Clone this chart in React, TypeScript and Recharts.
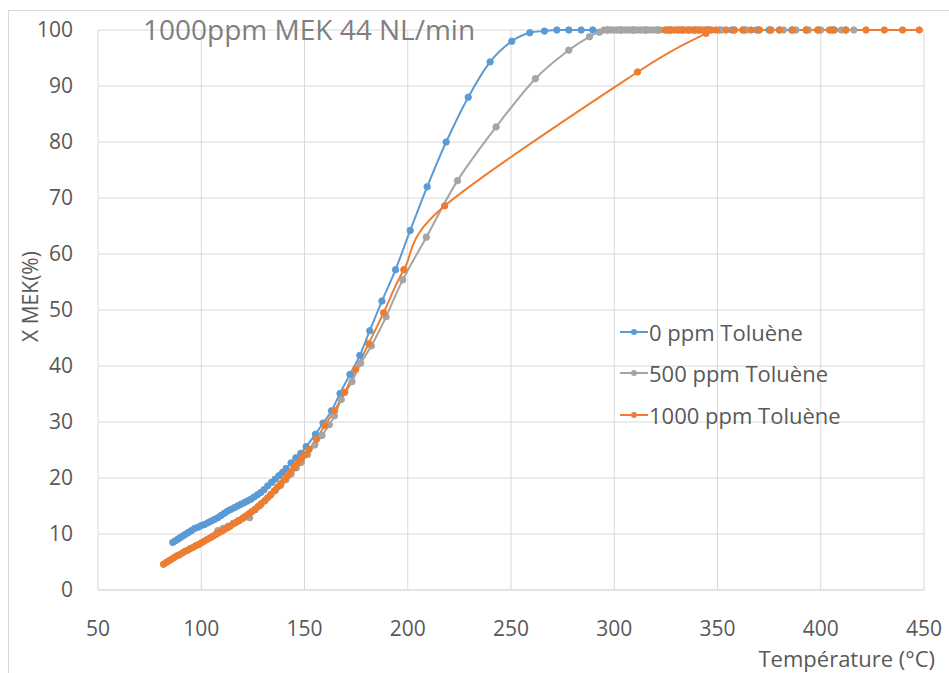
import { CartesianGrid, Legend, Line, LineChart, XAxis, YAxis } from 'recharts';

// 0 ppm toluene
const blueTemp = [
  86.2, 87.5, 88.8, 90.0, 91.3, 92.6, 93.9, 95.2, 96.8, 98.4, 100.0, 101.6, 103.2, 104.8, 106.4,
  108.0, 109.6, 111.2, 112.8, 114.4, 116.0, 117.6, 119.2, 120.8, 122.4, 124.0, 125.6, 127.2, 128.8,
  130.4, 132.2, 134.0, 135.8, 137.6, 139.4, 141.1, 143.5, 145.8, 148.2, 150.8, 155.3, 159.0, 163.1,
  167.2, 172.0, 176.8, 181.6, 187.5, 194.1, 201.2, 209.4, 218.6, 229.3, 239.9, 250.4, 259.1, 266.2,
  272.2, 278.0, 284.0, 289.6, 296.8, 303, 309, 315, 321, 327, 333, 339, 345, 351, 357, 363, 369, 375,
  380, 386, 393, 399, 406, 412,
];
const blueConv = [
  8.5, 8.8, 9.1, 9.4, 9.7, 10.0, 10.3, 10.6, 11.0, 11.2, 11.5, 11.7, 12.0, 12.3, 12.6,
  12.9, 13.3, 13.7, 14.1, 14.4, 14.7, 15.0, 15.3, 15.6, 15.9, 16.2, 16.6, 17.0, 17.4,
  17.9, 18.6, 19.2, 19.8, 20.4, 21.0, 21.7, 22.7, 23.6, 24.4, 25.6, 27.8, 29.8, 32.0,
  35.1, 38.5, 41.9, 46.3, 51.6, 57.2, 64.2, 72.0, 80.0, 88.0, 94.3, 98.0, 99.5, 99.8,
  100, 100, 100, 100, 100, 100, 100, 100, 100, 100, 100, 100, 100, 100, 100, 100, 100, 100,
  100, 100, 100, 100, 100, 100,
];

// 500 ppm toluene
const grayTemp = [
  108.0, 110.5, 113.0, 115.5, 118.0, 120.5, 123.4, 126.0, 128.5, 131.0, 133.5, 136.0, 138.5, 141.0,
  143.5, 146.0, 148.5, 151.5, 155.0, 158.5, 162.0, 164.5, 167.8, 173.0, 177.2, 182.4, 189.5, 197.6,
  209.0, 224.1, 242.8, 261.8, 278.0, 288.0, 292.8, 295.0, 296.5, 298.0, 299.5, 301.0, 302.5, 304.0,
  305.5, 307.0, 308.5, 310.0, 311.5, 313.0, 314.5, 316.0, 317.5, 319.0, 320.5, 322.0, 326, 331, 336,
  341, 346, 352, 358, 364, 370, 376, 382, 388, 394, 400, 405, 410, 416,
];
const grayConv = [
  10.6, 11.0, 11.4, 11.9, 12.4, 12.9, 12.9, 14.3, 15.1, 16.0, 16.9, 17.8, 18.7, 19.7,
  20.7, 21.8, 22.8, 24.2, 25.9, 27.6, 29.5, 31.1, 34.0, 37.2, 40.5, 43.6, 48.8, 55.4,
  63.0, 73.1, 82.7, 91.3, 96.4, 98.8, 99.6, 100, 100, 100, 100, 100, 100, 100,
  100, 100, 100, 100, 100, 100, 100, 100, 100, 100, 100, 100, 100, 100, 100,
  100, 100, 100, 100, 100, 100, 100, 100, 100, 100, 100, 100, 100, 100,
];

// 1000 ppm toluene, heating ramp
const orangeTemp = [
  81.7, 83.0, 84.3, 85.6, 86.9, 88.2, 89.5, 90.8, 92.1, 93.4, 94.7, 96.0, 97.3, 98.6, 100.0,
  101.4, 102.8, 104.2, 105.6, 107.0, 108.4, 109.8, 111.2, 112.6, 114.0, 115.5, 117.0, 118.5, 120.0,
  121.5, 123.0, 124.5, 126.0, 127.5, 129.0, 130.6, 132.2, 133.8, 135.4, 137.0, 138.6, 140.2, 141.8,
  143.4, 145.0, 146.7, 148.4, 150.2, 152.2, 155.8, 159.8, 164.5, 169.5, 174.8, 181.1, 188.3, 198.1,
  217.9, 311.3, 344.4,
];
const orangeConv = [
  4.6, 4.9, 5.2, 5.5, 5.8, 6.1, 6.3, 6.6, 6.9, 7.1, 7.4, 7.6, 7.9, 8.1, 8.4,
  8.7, 9.0, 9.3, 9.6, 9.9, 10.2, 10.5, 10.8, 11.1, 11.4, 11.8, 12.1, 12.4, 12.8,
  13.2, 13.6, 14.0, 14.4, 14.9, 15.4, 15.9, 16.5, 17.1, 17.7, 18.4, 19.0, 19.7, 20.4,
  21.1, 21.9, 22.6, 23.4, 24.2, 25.1, 26.9, 29.4, 32.0, 35.3, 39.4, 44.0, 49.5, 57.2,
  68.6, 92.5, 99.4,
];
// 1000 ppm toluene, plateau
const orangeTailTemp = [
  324.5, 326.0, 327.5, 329.0, 330.5, 332.0, 333.5, 335.0, 336.5, 338.0, 339.5, 341.0, 342.5, 344.0,
  345.5, 347.0, 349.3, 354.2, 358.2, 362.2, 366.3, 370.3, 375.5, 380.0, 386.4, 392.9, 398.5, 404.2,
  406.6, 412.2, 421.9, 430.8, 439.6, 447.7,
];
const orangeTailConv = [
  100, 100, 100, 100, 100, 100, 100, 100, 100, 100, 100, 100, 100, 100,
  100, 100, 100, 100, 100, 100, 100, 100, 100, 100, 100, 100, 100, 100,
  100, 100, 100, 100, 100, 100,
];

const xTicks = [50, 100, 150, 200, 250, 300, 350, 400, 450];
const yTicks = [0, 10, 20, 30, 40, 50, 60, 70, 80, 90, 100];

const legendNames = ['0 ppm Toluène', '500 ppm Toluène', '1000 ppm Toluène'];
const colors = ['#5b9bd5', '#a5a5a5', '#ed7d31'];

const toPoints = (temps: number[], conv: number[]) => temps.map((t, i) => ({ t, x: conv[i] }));

const textColor = '#595959';
const font = '"Open Sans", sans-serif';

// spreadsheet-style smoothed line (uniform Catmull-Rom through the points)
const smoothCurve = (context: any) => {
  let pts: number[][] = [];
  return {
    areaStart() {},
    areaEnd() {},
    lineStart() {
      pts = [];
    },
    point(x: number, y: number) {
      pts.push([+x, +y]);
    },
    lineEnd() {
      const n = pts.length;
      if (!n) return;
      context.moveTo(pts[0][0], pts[0][1]);
      for (let i = 0; i < n - 1; i++) {
        const p0 = pts[Math.max(i - 1, 0)];
        const p1 = pts[i];
        const p2 = pts[i + 1];
        const p3 = pts[Math.min(i + 2, n - 1)];
        context.bezierCurveTo(
          p1[0] + (p2[0] - p0[0]) / 6,
          p1[1] + (p2[1] - p0[1]) / 6,
          p2[0] - (p3[0] - p1[0]) / 6,
          p2[1] - (p3[1] - p1[1]) / 6,
          p2[0],
          p2[1],
        );
      }
    },
  };
};

const LegendBox = () => (
  <div>
    {legendNames.map((name, i) => (
      <div key={name} style={{ display: 'flex', alignItems: 'center', height: 41.5 }}>
        <svg width={28} height={10}>
          <line x1={0} y1={5} x2={28} y2={5} stroke={colors[i]} strokeWidth={2} />
          <circle cx={14} cy={5} r={3} fill={colors[i]} />
        </svg>
        <span style={{ marginLeft: 1, fontSize: 22, color: textColor, fontFamily: font }}>{name}</span>
      </div>
    ))}
  </div>
);

const dotStyle = (c: string) => ({ r: 3.2, fill: c, stroke: c, strokeWidth: 1 });

export default function App() {
  return (
    <div style={{ position: 'relative', width: 949, height: 673, overflow: 'hidden', fontFamily: font, background: '#fff' }}>
      <style>{'body{margin:0;overflow:hidden}'}</style>
      <div
        style={{
          position: 'absolute', left: 8, top: 10, width: 1000, height: 1000,
          border: '1px solid #d9d9d9', pointerEvents: 'none',
        }}
      />
      <LineChart width={949} height={673} margin={{ top: 30, right: 25, bottom: 33, left: 0 }}>
        <CartesianGrid stroke="#d9d9d9" />
        <XAxis
          type="number"
          dataKey="t"
          domain={[50, 450]}
          ticks={xTicks}
          height={50}
          tickSize={0}
          tickMargin={31}
          tickLine={false}
          axisLine={{ stroke: '#d9d9d9' }}
          tick={{ fill: textColor, fontSize: 21 }}
        />
        <YAxis
          type="number"
          domain={[0, 100]}
          ticks={yTicks}
          width={98}
          tickSize={0}
          tickMargin={25}
          tickLine={false}
          axisLine={false}
          tick={{ fill: textColor, fontSize: 21 }}
        />
        <Legend
          layout="vertical"
          align="center"
          verticalAlign="middle"
          content={LegendBox}
          wrapperStyle={{ left: 620, top: 311, width: 280 }}
        />
        <Line
          data={toPoints(blueTemp, blueConv)}
          dataKey="x"
          name={legendNames[0]}
          type={smoothCurve}
          stroke={colors[0]}
          strokeWidth={2}
          dot={dotStyle(colors[0])}
          activeDot={false}
          isAnimationActive={false}
        />
        <Line
          data={toPoints(grayTemp, grayConv)}
          dataKey="x"
          name={legendNames[1]}
          type={smoothCurve}
          stroke={colors[1]}
          strokeWidth={2}
          dot={dotStyle(colors[1])}
          activeDot={false}
          isAnimationActive={false}
        />
        <Line
          data={toPoints(orangeTemp, orangeConv)}
          dataKey="x"
          name={legendNames[2]}
          type={smoothCurve}
          stroke={colors[2]}
          strokeWidth={2}
          dot={dotStyle(colors[2])}
          activeDot={false}
          isAnimationActive={false}
        />
        <Line
          data={toPoints(orangeTailTemp, orangeTailConv)}
          dataKey="x"
          name={legendNames[2] + ' '}
          type={smoothCurve}
          stroke={colors[2]}
          strokeWidth={2}
          dot={dotStyle(colors[2])}
          activeDot={false}
          isAnimationActive={false}
        />
      </LineChart>
      <div style={{ position: 'absolute', left: 143, top: 15, fontSize: 28, lineHeight: 1, color: '#7f7f7f', whiteSpace: 'nowrap' }}>
        1000ppm MEK 44 NL/min
      </div>
      <div style={{ position: 'absolute', right: 14, top: 647, fontSize: 22, lineHeight: 1, color: textColor, whiteSpace: 'nowrap' }}>
        Température (°C)
      </div>
      <div
        style={{
          position: 'absolute', left: -70, top: 286, width: 200, height: 21, fontSize: 21, lineHeight: 1,
          color: textColor, textAlign: 'center', transform: 'rotate(-90deg)', whiteSpace: 'nowrap',
        }}
      >
        X MEK(%)
      </div>
    </div>
  );
}
